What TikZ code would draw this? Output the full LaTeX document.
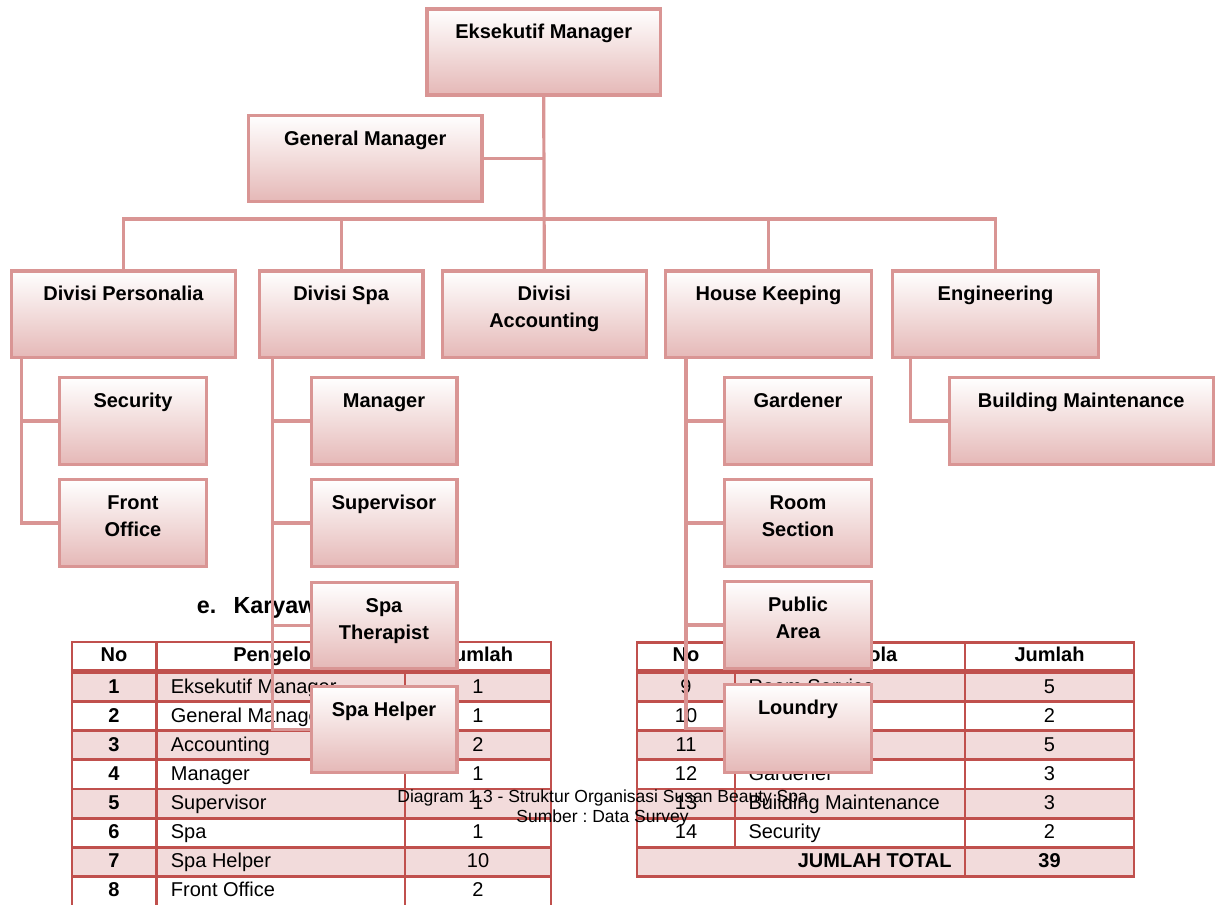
\documentclass[tikz,border=0pt]{standalone}
\usepackage{fontspec}
\setmainfont{Liberation Sans}
\frenchspacing
\definecolor{boxline}{HTML}{D99594}
\definecolor{boxbot}{HTML}{E5B8B7}
\definecolor{boxmid}{HTML}{F2DCDB}
\definecolor{tred}{HTML}{C0504D}
\definecolor{tshade}{HTML}{F2DBDB}
\pgfdeclarelayer{tbl}
\pgfdeclarelayer{links}
\pgfsetlayers{tbl,links,main}
\tikzset{
  orgbox/.style={draw=boxline, line width=3.3pt, top color=white, bottom color=boxbot, middle color=boxmid, inner sep=0pt},
  orgtext/.style={font=\fontsize{20}{27}\selectfont\bfseries, inner sep=0pt, anchor=base},
  conn/.style={draw=boxline, line width=3.2pt},
  trule/.style={draw=tred, line width=2.7pt, line cap=rect},
  cell/.style={font=\fontsize{20}{24}\selectfont, inner sep=0pt, anchor=base},
  cellb/.style={font=\fontsize{20}{24}\selectfont\bfseries, inner sep=0pt, anchor=base},
  captext/.style={font=\fontsize{17.5}{20}\selectfont, inner sep=0pt, anchor=base}
}
\newcommand\OrgBox[6]{%
  \node[orgbox, minimum width={(#4)-(#2)-3.3}, minimum height={(#5)-(#3)-3.3}] (#1) at ({((#2)+(#4))/2},{((#3)+(#5))/2}) {};
  \node[orgtext] at ([yshift=-31.3pt]#1.north) {\begin{tabular}[t]{@{}c@{}}#6\end{tabular}};
}
\begin{document}
\begin{tikzpicture}[x=1pt,y=-1pt]
\useasboundingbox (0,0) rectangle (1216,905);

% ---------------- org chart boxes ----------------
\OrgBox{em}{425.4}{7.3}{662}{96.7}{Eksekutif Manager}
\OrgBox{gm}{247}{114}{483.5}{203}{General Manager}
\OrgBox{dp}{10}{269.3}{237}{359.3}{Divisi Personalia}
\OrgBox{ds}{257.6}{269.3}{424.6}{359.3}{Divisi Spa}
\OrgBox{da}{440.6}{269.3}{648}{359.3}{Divisi\\Accounting}
\OrgBox{hk}{664}{269.3}{873}{359.3}{House Keeping}
\OrgBox{en}{891}{269.3}{1100}{359.3}{Engineering}
\OrgBox{sec}{58}{376}{208}{466}{Security}
\OrgBox{fo}{58}{478}{208}{568}{Front\\Office}
\OrgBox{mgr}{309.5}{376}{458.5}{466}{Manager}
\OrgBox{sup}{309.5}{478}{458.5}{568}{Supervisor}
\OrgBox{spt}{309.5}{581}{458.5}{670}{Spa\\Therapist}
\OrgBox{sph}{309.5}{685}{458.5}{774}{Spa Helper}
\OrgBox{gar}{723}{376}{873}{466}{Gardener}
\OrgBox{rs}{723}{478}{873}{568}{Room\\Section}
\OrgBox{pa}{723}{580}{873}{670}{Public\\Area}
\OrgBox{lo}{723}{683}{873}{774}{Loundry}
\OrgBox{bm}{947.5}{376}{1215}{466}{Building Maintenance}

% ---------------- connectors ----------------
\begin{pgfonlayer}{links}
\coordinate (bus) at (0,219);
\draw[conn] (em.south) -- (da.north);
\draw[conn] (gm.east) -- (gm.east -| em.south);
\draw[conn] (dp.north) |- (bus -| en.north) -- (en.north);
\draw[conn] (ds.north) -- (ds.north |- bus);
\draw[conn] (hk.north) -- (hk.north |- bus);
\draw[conn] ([xshift=11.5pt]dp.south west) |- (sec.west);
\draw[conn] ([xshift=11.5pt]dp.south west) |- (fo.west);
\draw[conn] ([xshift=14.9pt]ds.south west) |- (mgr.west);
\draw[conn] ([xshift=14.9pt]ds.south west) |- (sup.west);
\draw[conn] ([xshift=14.9pt]ds.south west) |- (spt.west);
\draw[conn] ([xshift=14.9pt]ds.south west) |- (sph.west);
\draw[conn] ([xshift=22pt]hk.south west) |- (gar.west);
\draw[conn] ([xshift=22pt]hk.south west) |- (rs.west);
\draw[conn] ([xshift=22pt]hk.south west) |- (pa.west);
\draw[conn] ([xshift=22pt]hk.south west) |- (lo.west);
\draw[conn] ([xshift=19.8pt]en.south west) |- (bm.west);
\end{pgfonlayer}

% ---------------- tables, heading, caption ----------------
\begin{pgfonlayer}{tbl}
% shading
\foreach \a/\b in {671.7/701.3, 730.6/759.8, 789.0/818.3, 847.5/876.7} {
  \fill[tshade] (72,\a) rectangle (551,\b);
  \fill[tshade] (637,\a) rectangle (1134,\b);
}
% left table rules
\draw[trule] (72,642) -- (551,642);
\draw[trule, line width=4.7pt, line cap=butt] (70.65,671.7) -- (552.35,671.7);
\foreach \y in {701.3,730.6,759.8,789.0,818.3,847.5,876.7}
  \draw[trule] (72,\y) -- (551,\y);
\foreach \x in {72,156.3,405,551}
  \draw[trule] (\x,642) -- (\x,910);
% right table rules
\draw[trule] (637,642.3) -- (1134,642.3);
\draw[trule, line width=4.7pt, line cap=butt] (635.65,671.7) -- (1135.35,671.7);
\foreach \y in {701.3,730.6,759.8,789.0,818.3,847.5,876.5}
  \draw[trule] (637,\y) -- (1134,\y);
\foreach \x in {637,965,1134}
  \draw[trule] (\x,642.3) -- (\x,876.5);
\draw[trule] (735,642.3) -- (735,847.5);

% left table text
\node[cellb] at (114,661.7) {No};
\node[cellb] at (280.5,661.7) {Pengelola};
\node[cellb] at (478,661.7) {Jumlah};
\foreach \n/\name/\j [count=\r from 0] in {1/Eksekutif Manager/1, 2/General Manager/1, 3/Accounting/2, 4/Manager/1, 5/Supervisor/1, 6/Spa/1, 7/Spa Helper/10, 8/Front Office/2} {
  \node[cellb] at (114,{693+29.1*\r}) {\n};
  \node[cell, anchor=base west] at (170.7,{693+29.1*\r}) {\name};
  \node[cell] at (478,{693+29.1*\r}) {\j};
}
% right table text
\node[cellb] at (686,661.7) {No};
\node[cellb] at (850,661.7) {Pengelola};
\node[cellb] at (1049.5,661.7) {Jumlah};
\foreach \n/\name/\j [count=\r from 0] in {9/Room Service/5, 10//2, 11//5, 12/Gardener/3, 13/Building Maintenance/3, 14/Security/2} {
  \node[cell] at (686,{693+29.1*\r}) {\n};
  \node[cell, anchor=base west] at (748.3,{693+29.1*\r}) {\name};
  \node[cell] at (1049.5,{693+29.1*\r}) {\j};
}
\node[cellb, anchor=base east] at (951.7,867.6) {JUMLAH TOTAL};
\node[cellb] at (1049.5,867.6) {39};

% heading
\node[font=\fontsize{23.3}{28}\selectfont\bfseries, inner sep=0pt, anchor=base west] at (196.7,613.3) {e.\hspace{17.2pt}Karyawan};

% caption
\node[captext] (cap1) at (602.7,802.3) {Diagram 1.3 - Struktur Organisasi Susan Beauty Spa};
\node[captext] (cap2) at (602.5,822.3) {Sumber : Data Survey};
\end{pgfonlayer}
\end{tikzpicture}
\end{document}
